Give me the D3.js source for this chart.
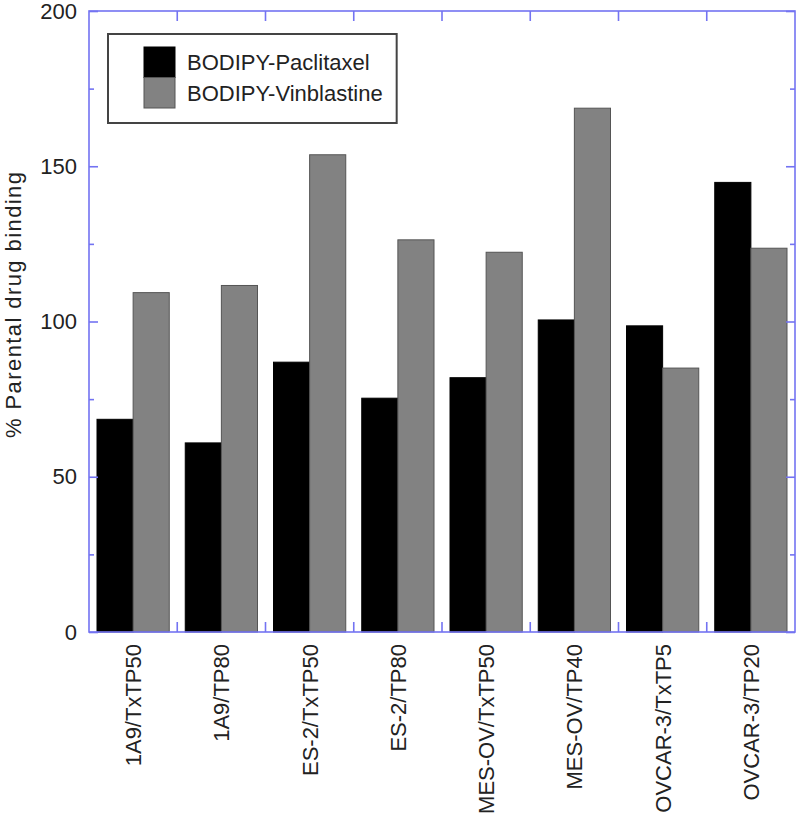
<!DOCTYPE html>
<html>
<head>
<meta charset="utf-8">
<script src="https://cdn.jsdelivr.net/npm/d3@7"></script>
<style>
  html, body { margin: 0; padding: 0; background: #fff; }
  svg { display: block; font-family: "Liberation Sans", Arial, Helvetica, sans-serif; }
</style>
</head>
<body>
<svg id="chart" width="798" height="821"></svg>
<script>
const categories = ["1A9/TxTP50", "1A9/TP80", "ES-2/TxTP50", "ES-2/TP80", "MES-OV/TxTP50", "MES-OV/TP40", "OVCAR-3/TxTP5", "OVCAR-3/TP20"];
const seriesNames = ["BODIPY-Paclitaxel", "BODIPY-Vinblastine"];
const paclitaxel = [68.5, 60.9, 86.9, 75.3, 81.9, 100.5, 98.6, 144.8];
const vinblastine = [109.3, 111.6, 153.7, 126.3, 122.3, 168.7, 85.0, 123.6];
const yMajorTicks = [0, 50, 100, 150, 200];
const yMinorTicks = [25, 75, 125, 175];
const yLabel = "% Parental drug binding";
const colors = ["#000000", "#828282"];

const svg = d3.select("#chart");
const pLeft = 89, pRight = 795, pTop = 11, pBottom = 632;
const frameColor = "#7373f2";
const fs = 22;

const x = d3.scaleBand().domain(categories).range([pLeft, pRight]).padding(0);
const xs = d3.scaleBand().domain(seriesNames).range([8, x.bandwidth() - 8]).padding(0);
const y = d3.scaleLinear().domain([0, 200]).range([pBottom, pTop]);

const values = [paclitaxel, vinblastine];
const rows = categories.map((c, i) => seriesNames.map((s, j) => ({cat: c, s, j, v: values[j][i]})));

// bars
const g = svg.append("g");
g.selectAll("g.grp").data(rows).join("g")
  .attr("transform", (d, i) => `translate(${x(categories[i])},0)`)
  .selectAll("rect").data(d => d).join("rect")
  .attr("x", d => xs(d.s))
  .attr("width", xs.bandwidth())
  .attr("y", d => y(d.v))
  .attr("height", d => y(0) - y(d.v))
  .attr("fill", d => colors[d.j])
  .attr("stroke", d => d.j === 0 ? "#000" : "#555")
  .attr("stroke-width", 1);

// frame
svg.append("rect")
  .attr("x", pLeft).attr("y", pTop)
  .attr("width", pRight - pLeft).attr("height", pBottom - pTop)
  .attr("fill", "none").attr("stroke", frameColor).attr("stroke-width", 1.6);

// y ticks left (inward) and right (inward)
const yAxisL = d3.axisRight(y).tickValues(yMajorTicks).tickSize(9).tickFormat("");
const yAxisLm = d3.axisRight(y).tickValues(yMinorTicks).tickSize(5).tickFormat("");
const yAxisR = d3.axisLeft(y).tickValues(yMajorTicks).tickSize(9).tickFormat("");
const yAxisRm = d3.axisLeft(y).tickValues(yMinorTicks).tickSize(5).tickFormat("");
[[yAxisL, pLeft], [yAxisLm, pLeft], [yAxisR, pRight], [yAxisRm, pRight]].forEach(([ax, px]) => {
  const a = svg.append("g").attr("transform", `translate(${px},0)`).call(ax);
  a.select(".domain").remove();
  a.selectAll("line").attr("stroke", frameColor).attr("stroke-width", 1.6);
});

// y tick labels
const yLab = d3.axisLeft(y).tickValues(yMajorTicks).tickSize(0).tickPadding(0).tickFormat(d3.format("d"));
const yl = svg.append("g").attr("transform", `translate(${pLeft - 12},0)`).call(yLab);
yl.select(".domain").remove();
yl.selectAll("text").attr("font-size", fs).attr("fill", "#222")
  .attr("font-family", "Liberation Sans, Arial, sans-serif");

// category boundary ticks
const boundaries = categories.slice(1).map(c => x(c));
svg.append("g").selectAll("line.b").data(boundaries).join("line")
  .attr("x1", d => d).attr("x2", d => d)
  .attr("y1", pBottom).attr("y2", pBottom - 10)
  .attr("stroke", frameColor).attr("stroke-width", 1.6);
svg.append("g").selectAll("line.t").data(boundaries).join("line")
  .attr("x1", d => d).attr("x2", d => d)
  .attr("y1", pTop).attr("y2", pTop + 10)
  .attr("stroke", frameColor).attr("stroke-width", 1.6);

// category labels (rotated)
const xLab = d3.axisBottom(x).tickSize(0).tickPadding(0);
const xl = svg.append("g").attr("transform", `translate(0,${pBottom})`).call(xLab);
xl.select(".domain").remove();
xl.selectAll("text")
  .attr("font-size", fs).attr("fill", "#222")
  .attr("font-family", "Liberation Sans, Arial, sans-serif")
  .attr("text-anchor", "end")
  .attr("transform", "rotate(-90)")
  .attr("x", -12).attr("y", 0).attr("dy", "0.36em");

// y axis title
svg.append("text")
  .attr("transform", `translate(21,305) rotate(-90)`)
  .attr("text-anchor", "middle")
  .attr("font-size", fs).attr("fill", "#222")
  .attr("textLength", 266).attr("lengthAdjust", "spacing")
  .text(yLabel);

// legend
const lg = svg.append("g");
const legBox = lg.append("rect")
  .attr("x", 108).attr("y", 34).attr("height", 89)
  .attr("fill", "#fff").attr("stroke", "#444").attr("stroke-width", 2);
const legRows = seriesNames.map((s, j) => ({s, j}));
lg.selectAll("rect.sw").data(legRows).join("rect")
  .attr("class", "sw")
  .attr("x", 144).attr("width", 31)
  .attr("y", d => 47 + d.j * 30.5).attr("height", 30.5)
  .attr("fill", d => colors[d.j]).attr("stroke", d => d.j === 0 ? "#000" : "#555").attr("stroke-width", 1);
const lt = lg.selectAll("text").data(legRows).join("text")
  .attr("x", 187).attr("y", d => 62 + d.j * 31).attr("dy", "0.35em")
  .attr("font-size", fs).attr("fill", "#222")
  .text(d => d.s);
let maxW = 0;
lt.each(function() { maxW = Math.max(maxW, this.getComputedTextLength()); });
legBox.attr("width", 187 + maxW + 14 - 108);
</script>
</body>
</html>
